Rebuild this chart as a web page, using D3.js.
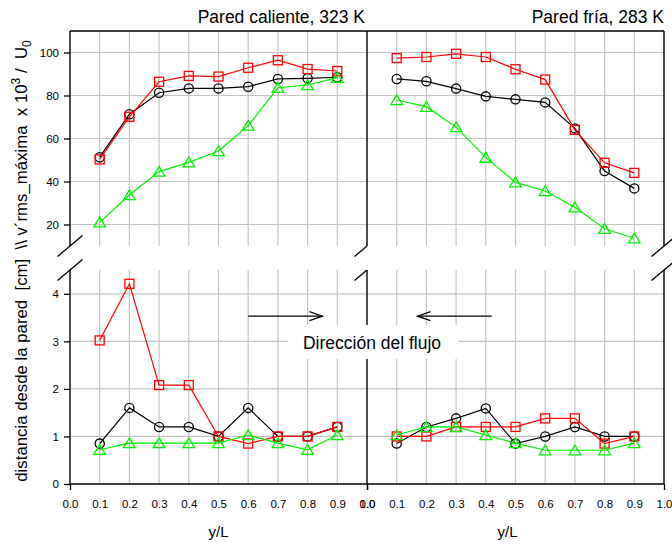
<!DOCTYPE html>
<html>
<head>
<meta charset="utf-8">
<script src="https://cdn.jsdelivr.net/npm/d3@7"></script>
<style>
  html, body { margin: 0; padding: 0; background: #fff; }
  svg { display: block; font-family: "Liberation Sans", Arial, sans-serif; }
</style>
</head>
<body>
<svg id="chart" width="672" height="544"></svg>
<script>
// Positions along the wall (y/L)
const positions = [0.1, 0.2, 0.3, 0.4, 0.5, 0.6, 0.7, 0.8, 0.9];

// Upper band: v'rms max x 10^3 / U0
const hotBlackTop  = [51.3, 71.3, 81.3, 83.3, 83.3, 84.1, 87.7, 88.0, 88.5];
const hotRedTop    = [50.3, 70.1, 86.4, 89.1, 88.8, 92.9, 96.4, 92.3, 91.4];
const hotGreenTop  = [21.0, 33.7, 44.6, 48.9, 54.2, 66.0, 83.6, 84.9, 88.3];
const coldBlackTop = [87.7, 86.6, 83.2, 79.6, 78.2, 76.8, 64.7, 44.9, 36.8];
const coldRedTop   = [97.4, 97.9, 99.4, 97.9, 92.2, 87.4, 64.0, 48.7, 44.0];
const coldGreenTop = [77.9, 74.8, 65.3, 51.1, 39.6, 35.6, 28.0, 18.0, 13.6];

// Lower band: distance from the wall [cm]
const hotBlackBot  = [0.85, 1.60, 1.20, 1.20, 1.00, 1.60, 1.00, 1.00, 1.20];
const hotRedBot    = [3.02, 4.21, 2.08, 2.08, 1.00, 0.85, 1.00, 1.00, 1.20];
const hotGreenBot  = [0.72, 0.86, 0.86, 0.86, 0.86, 1.03, 0.86, 0.72, 1.03];
const coldBlackBot = [0.85, 1.20, 1.38, 1.59, 0.85, 1.00, 1.20, 1.00, 1.00];
const coldRedBot   = [1.00, 1.00, 1.20, 1.20, 1.20, 1.38, 1.38, 0.85, 1.00];
const coldGreenBot = [1.03, 1.20, 1.20, 1.03, 0.86, 0.71, 0.71, 0.71, 0.86];

// Axis ticks and labels
const xTicks = [0, 0.1, 0.2, 0.3, 0.4, 0.5, 0.6, 0.7, 0.8, 0.9, 1.0];
const topTicks = [20, 40, 60, 80, 100];
const botTicks = [0, 1, 2, 3, 4];
const panelTitles = ["Pared caliente, 323 K", "Pared fría, 283 K"];
const flowLabel = "Dirección del flujo";
// Flow arrows: [panel, from, to] in y/L, at height in cm
const flowArrows = [[0, 0.6, 0.85], [1, 0.42, 0.17]];
const arrowLevel = 3.53;

const svg = d3.select("#chart");

const xL = d3.scaleLinear().domain([0, 1]).range([70, 367]);
const xR = d3.scaleLinear().domain([0, 1]).range([367, 664]);
const xs = [xL, xR];
const yT = d3.scaleLinear().domain([10, 110]).range([246, 31]);
const yB = d3.scaleLinear().domain([0, 4.5]).range([484, 270]);

const gridColor = "#c4c4c4";

// ---- grid ----
const grid = svg.append("g");
xs.forEach(x => {
  positions.forEach(p => {
    [yT, yB].forEach(y => {
      grid.append("line")
        .attr("x1", x(p)).attr("x2", x(p))
        .attr("y1", y.range()[0]).attr("y2", y.range()[1])
        .attr("stroke", gridColor).attr("stroke-width", 1.2);
    });
  });
});
topTicks.forEach(t => grid.append("line")
  .attr("x1", xL(0)).attr("x2", xR(1)).attr("y1", yT(t)).attr("y2", yT(t))
  .attr("stroke", gridColor).attr("stroke-width", 1.2));
botTicks.filter(t => t > 0).forEach(t => grid.append("line")
  .attr("x1", xL(0)).attr("x2", xR(1)).attr("y1", yB(t)).attr("y2", yB(t))
  .attr("stroke", gridColor).attr("stroke-width", 1.2));

// ---- frame ----
const frame = svg.append("g").attr("stroke", "#000").attr("stroke-width", 1.4);
frame.append("line").attr("x1", xL(0)).attr("x2", xR(1)).attr("y1", yT(110)).attr("y2", yT(110));
frame.append("line").attr("x1", xL(0)).attr("x2", xR(1)).attr("y1", yB(0)).attr("y2", yB(0));
[xL(0), xL(1), xR(1)].forEach(xv => {
  frame.append("line").attr("x1", xv).attr("x2", xv).attr("y1", yT(110)).attr("y2", yT(10));
  frame.append("line").attr("x1", xv).attr("x2", xv).attr("y1", yB(4.5)).attr("y2", yB(0));
});

// ---- axis break marks ----
const brk = svg.append("g").attr("stroke", "#000").attr("stroke-width", 1.3);
[yT(10), yB(4.5)].forEach(yc => {
  [xL(0), xR(1)].forEach(xc => {
    brk.append("line").attr("x1", xc - 12.5).attr("y1", yc + 10.5)
      .attr("x2", xc + 12.5).attr("y2", yc - 10.5);
  });
  // at the shared middle axis only the left half shows
  const xm = xL(1);
  brk.append("line").attr("x1", xm - 12.5).attr("y1", yc + 10.5)
    .attr("x2", xm).attr("y2", yc);
});

// ---- y axes ----
const tickFont = "11.5px";
function styleAxis(g) {
  g.select(".domain").remove();
  g.selectAll(".tick line").attr("stroke", "#000").attr("stroke-width", 1.3);
  g.selectAll(".tick text").attr("fill", "#000").style("font-size", tickFont)
    .style("font-family", "'Liberation Sans', Arial, sans-serif");
}
svg.append("g").attr("transform", `translate(${xL(0)},0)`)
  .call(d3.axisLeft(yT).tickValues(topTicks).tickSize(6).tickPadding(5).tickFormat(d3.format("d")))
  .call(styleAxis);
svg.append("g").attr("transform", `translate(${xL(0)},0)`)
  .call(d3.axisLeft(yB).tickValues(botTicks).tickSize(6).tickPadding(5).tickFormat(d3.format("d")))
  .call(styleAxis);

// ---- x axes ----
xs.forEach(x => {
  svg.append("g").attr("transform", `translate(0,${yB(0)})`)
    .call(d3.axisBottom(x).tickValues(xTicks).tickSize(0).tickPadding(16).tickFormat(d3.format(".1f")))
    .call(styleAxis);
  svg.append("g").attr("transform", `translate(0,${yB(0)})`)
    .call(d3.axisBottom(x).tickValues([0, 1]).tickSize(6).tickFormat(""))
    .call(styleAxis);
  svg.append("text")
    .attr("x", x(0.5) - (x === xR ? 8 : 0)).attr("y", 537)
    .attr("text-anchor", "middle").style("font-size", "15px")
    .text("y/L");
});

// ---- panel titles ----
svg.append("text").attr("x", xL(1) - 2).attr("y", 23).attr("text-anchor", "end")
  .style("font-size", "17.5px").text(panelTitles[0]);
svg.append("text").attr("x", xR(1)).attr("y", 23).attr("text-anchor", "end")
  .style("font-size", "17.5px").text(panelTitles[1]);

// ---- y axis title ----
const yTitle = svg.append("text")
  .attr("transform", "translate(27,261) rotate(-90)")
  .attr("text-anchor", "middle").style("font-size", "16.8px")
  .style("white-space", "pre");
yTitle.append("tspan").text("distancia desde la pared  [cm]  \\\\ v´rms_máxima  x 10");
yTitle.append("tspan").attr("dy", -7).style("font-size", "12px").text("3");
yTitle.append("tspan").attr("dy", 7).text(" /  U");
yTitle.append("tspan").attr("dy", 4).style("font-size", "12px").text("0");

// ---- flow direction label ----
svg.append("rect").attr("x", 288).attr("y", 325).attr("width", 170).attr("height", 34)
  .attr("fill", "#fff");
svg.append("text").attr("x", 372).attr("y", 349).attr("text-anchor", "middle")
  .style("font-size", "17.5px").text(flowLabel);

const arrows = svg.append("g").attr("stroke", "#000").attr("stroke-width", 1.2).attr("fill", "none");
flowArrows.forEach(([panel, a, b]) => {
  const x = xs[panel];
  const ya = yB(arrowLevel);
  const x0 = x(a), x1 = x(b);
  const dir = Math.sign(x1 - x0);
  arrows.append("line").attr("x1", x0).attr("x2", x1).attr("y1", ya).attr("y2", ya);
  arrows.append("path")
    .attr("d", `M${x1 - dir * 13},${ya - 4.5} L${x1},${ya} L${x1 - dir * 13},${ya + 4.5}`);
});

// ---- series ----
const tri = "M0,-5.2 L5.8,4.6 L-5.8,4.6 Z";
const series = [
  { top: [hotBlackTop, coldBlackTop], bot: [hotBlackBot, coldBlackBot], color: "#000000", mark: "circle" },
  { top: [hotRedTop, coldRedTop], bot: [hotRedBot, coldRedBot], color: "#ff0000", mark: "square" },
  { top: [hotGreenTop, coldGreenTop], bot: [hotGreenBot, coldGreenBot], color: "#00f000", mark: "triangle" }
];

function drawSeries(x, y, vals, color, mark) {
  const pts = positions.map((p, i) => [x(p), y(vals[i])]);
  svg.append("path").attr("d", d3.line()(pts))
    .attr("fill", "none").attr("stroke", color).attr("stroke-width", 1.2);
  const g = svg.append("g").attr("fill", "none").attr("stroke", color).attr("stroke-width", 1.3);
  pts.forEach(([px, py]) => {
    if (mark === "circle") {
      g.append("circle").attr("cx", px).attr("cy", py).attr("r", 4.6);
    } else if (mark === "square") {
      g.append("rect").attr("x", px - 4.5).attr("y", py - 4.5).attr("width", 9).attr("height", 9);
    } else {
      g.append("path").attr("d", tri).attr("transform", `translate(${px},${py})`);
    }
  });
}

series.forEach(s => {
  [0, 1].forEach(k => {
    drawSeries(xs[k], yT, s.top[k], s.color, s.mark);
    drawSeries(xs[k], yB, s.bot[k], s.color, s.mark);
  });
});
</script>
</body>
</html>
